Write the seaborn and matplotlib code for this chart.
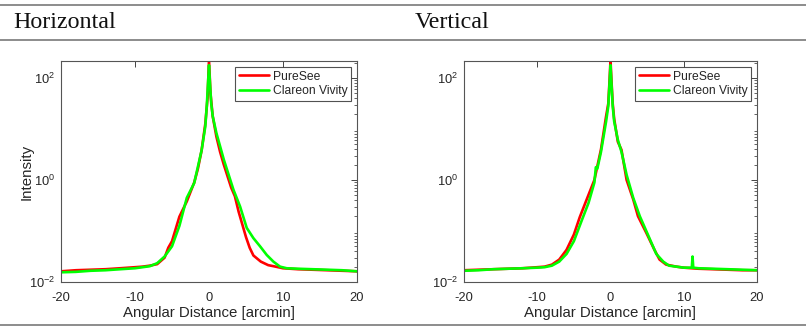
import numpy as np
import pandas as pd
import matplotlib
matplotlib.use("Agg")
import matplotlib.pyplot as plt
import seaborn as sns
from matplotlib.lines import Line2D
from matplotlib.ticker import LogLocator, NullFormatter

# ---------------- data ----------------
series_names = ["PureSee", "Clareon Vivity"]
panel_titles = ["Horizontal", "Vertical"]
x_ticks = [-20, -10, 0, 10, 20]

h_puresee_x = [-20, -18, -16, -14, -12, -10, -9, -8, -7, -6, -5.5, -5, -4, -3, -2, -1.5, -1,
               -0.5, -0.2, 0, 0.2, 0.5, 1, 1.5, 2, 3, 3.5, 4, 5, 5.5, 6, 7, 8, 9, 10, 12,
               14, 16, 18, 20]
h_puresee_y = [0.0162, 0.0170, 0.0174, 0.0178, 0.0186, 0.0195, 0.0200, 0.0209, 0.0224, 0.0300,
               0.0470, 0.0631, 0.191, 0.380, 0.891, 1.66, 3.80, 12.6, 39.8, 224, 50.1, 17.8,
               7.08, 3.55, 2.0, 0.708, 0.479, 0.240, 0.0759, 0.0468, 0.0331, 0.0251, 0.0214,
               0.0200, 0.0186, 0.0178, 0.0174, 0.0170, 0.0166, 0.0162]

h_vivity_x = [-20, -18, -16, -14, -12, -10, -8, -7, -6, -5, -4, -3, -2, -1, -0.5, -0.3, -0.15,
              0, 0.15, 0.3, 0.5, 1, 2, 3.3, 4.2, 5.1, 6, 6.9, 7.8, 8.7, 9.6, 10.5, 12, 14, 16,
              18, 20]
h_vivity_y = [0.0155, 0.0158, 0.0166, 0.0170, 0.0178, 0.0186, 0.0204, 0.0234, 0.0316, 0.0501,
              0.126, 0.447, 0.871, 3.80, 11.2, 28.2, 70.8, 178, 70.8, 31.6, 17.8, 8.32, 2.51,
              0.646, 0.302, 0.115, 0.0724, 0.0501, 0.0339, 0.0251, 0.0200, 0.0186, 0.0182,
              0.0178, 0.0174, 0.0170, 0.0162]

v_puresee_x = [-20, -18, -16, -14, -12, -10, -9, -8, -7, -6, -5, -4.2, -3.3, -2.2, -1.3, -0.6,
               -0.3, -0.15, 0, 0.15, 0.3, 0.5, 1, 1.5, 2.2, 3.1, 3.75, 4.9, 6, 6.7, 7.6, 9, 10,
               12, 14, 16, 18, 20]
v_puresee_y = [0.0170, 0.0174, 0.0178, 0.0182, 0.0186, 0.0195, 0.0200, 0.0219, 0.0275, 0.0427,
               0.0851, 0.186, 0.398, 1.0, 3.98, 17.8, 31.6, 79.4, 224, 79.4, 31.6, 15.8, 5.62,
               3.89, 1.0, 0.417, 0.195, 0.0912, 0.0427, 0.0275, 0.0219, 0.0200, 0.0191, 0.0182,
               0.0178, 0.0174, 0.0170, 0.0170]

v_vivity_x = [-20, -18, -16, -14, -12, -10, -9, -8, -7, -6, -5, -4, -3, -2.2, -2, -1.8, -1.3,
              -0.6, -0.3, -0.15, 0, 0.15, 0.3, 0.5, 1, 1.5, 2.2, 3.1, 4, 5.1, 6.25, 7.2, 8, 10,
              11.1, 11.2, 11.3, 12, 14, 16, 18, 20]
v_vivity_y = [0.0166, 0.0170, 0.0178, 0.0182, 0.0186, 0.0191, 0.0195, 0.0209, 0.0251, 0.0355,
              0.0631, 0.151, 0.355, 0.891, 1.78, 1.66, 3.55, 14.1, 28.2, 70.8, 178, 70.8, 28.2,
              14.1, 6.17, 3.55, 1.26, 0.447, 0.195, 0.0851, 0.0355, 0.0251, 0.0209, 0.0191,
              0.0191, 0.0316, 0.0191, 0.0186, 0.0182, 0.0178, 0.0174, 0.0170]


def make_df(px, py, vx, vy):
    return pd.concat([
        pd.DataFrame({"x": px, "y": py, "series": series_names[0]}),
        pd.DataFrame({"x": vx, "y": vy, "series": series_names[1]}),
    ], ignore_index=True)


panels = [make_df(h_puresee_x, h_puresee_y, h_vivity_x, h_vivity_y),
          make_df(v_puresee_x, v_puresee_y, v_vivity_x, v_vivity_y)]

# ---------------- style ----------------
sns.set_theme(style="white")
plt.rcParams["font.family"] = ["Liberation Sans", "DejaVu Sans"]
plt.rcParams["mathtext.default"] = "regular"

W, H = 806, 328
fig = plt.figure(figsize=(W / 100, H / 100), dpi=100)

axes_px = [(61, 61, 357, 282), (464, 61, 757, 282)]
palette = {series_names[0]: "#ff0000", series_names[1]: "#00ff00"}
axcol = "#262626"

for i, (df, (x0, y0, x1, y1)) in enumerate(zip(panels, axes_px)):
    ax = fig.add_axes([x0 / W, 1 - y1 / H, (x1 - x0) / W, (y1 - y0) / H])
    sns.lineplot(data=df, x="x", y="y", hue="series", palette=palette, ax=ax,
                 linewidth=1.9, sort=False, estimator=None)
    ax.set_yscale("log")
    ax.set_xlim(-20, 20)
    ax.set_ylim(0.01, 215)
    ax.set_xticks(x_ticks)
    ax.set_xticklabels([str(t) for t in x_ticks])
    ax.set_yticks([1e-2, 1e0, 1e2])
    ax.yaxis.set_minor_locator(LogLocator(base=10, subs=np.arange(2, 10), numticks=20))
    ax.yaxis.set_minor_formatter(NullFormatter())
    ax.tick_params(axis="both", which="both", direction="in", top=True, right=True,
                   colors=axcol, labelsize=9.3)
    ax.tick_params(axis="x", which="major", pad=7)
    ax.tick_params(axis="y", which="major", pad=4)
    ax.tick_params(which="major", length=4, width=0.6)
    ax.tick_params(which="minor", length=2, width=0.5)
    for sp in ax.spines.values():
        sp.set_color("#555555")
        sp.set_linewidth(0.8)
    ax.set_xlabel("Angular Distance [arcmin]", fontsize=10.8, color=axcol, labelpad=1.5)
    if i == 0:
        ax.set_ylabel("Intensity", fontsize=10.8, color=axcol, labelpad=-3)
    else:
        ax.set_ylabel("")
    leg = ax.legend(loc="upper right", fontsize=8.7, frameon=True, fancybox=False,
                    borderpad=0.3, handlelength=2.5, handletextpad=0.3, labelspacing=0.2,
                    borderaxespad=0.5)
    leg.get_frame().set_edgecolor("#262626")
    leg.get_frame().set_linewidth(0.8)
    for line in leg.get_lines():
        line.set_linewidth(1.9)

# header / rules
rule_col = "#8c8c8c"
for ypx in (4.5, 40, 324.5):
    fig.add_artist(Line2D([0, 1], [1 - ypx / H] * 2, color=rule_col, lw=1.4,
                          transform=fig.transFigure))
fig.text(13 / W, 1 - 28 / H, panel_titles[0], fontsize=17.3, va="baseline",
         family=["Liberation Serif", "DejaVu Serif"], color="#111111")
fig.text(415 / W, 1 - 28 / H, panel_titles[1], fontsize=17.3, va="baseline",
         family=["Liberation Serif", "DejaVu Serif"], color="#111111")

fig.savefig("out.png", dpi=100)
